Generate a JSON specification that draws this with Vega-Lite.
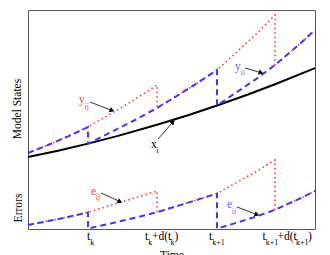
{
  "$schema": "https://vega.github.io/schema/vega-lite/v6.json",
  "width": 287,
  "height": 219,
  "autosize": {"type": "none"},
  "padding": {"left": 28, "top": 10, "right": 15, "bottom": 26},
  "background": "white",
  "config": {"view": {"stroke": "#555555", "strokeWidth": 1}, "text": {"font": "Liberation Serif"}},
  "datasets": {
    "curves": [
      {"s": "x_i", "i": 1, "t": 0, "v": 72}, {"s": "x_i", "i": 2, "t": 30, "v": 78.3}, {"s": "x_i", "i": 3, "t": 60, "v": 85.4}, {"s": "x_i", "i": 4, "t": 90, "v": 93.1}, {"s": "x_i", "i": 5, "t": 129, "v": 104.2}, {"s": "x_i", "i": 6, "t": 160, "v": 113.8}, {"s": "x_i", "i": 7, "t": 189, "v": 123.5}, {"s": "x_i", "i": 8, "t": 220, "v": 134.5}, {"s": "x_i", "i": 9, "t": 247, "v": 144.8}, {"s": "x_i", "i": 10, "t": 287, "v": 160.9},

      {"s": "y_ij", "i": 1, "t": 0, "v": 76}, {"s": "y_ij", "i": 2, "t": 20, "v": 84.0}, {"s": "y_ij", "i": 3, "t": 40, "v": 92.6}, {"s": "y_ij", "i": 4, "t": 60, "v": 102}, {"s": "y_ij", "i": 5, "t": 83, "v": 115.3}, {"s": "y_ij", "i": 6, "t": 106, "v": 129}, {"s": "y_ij", "i": 7, "t": 129, "v": 144}, {"s": "y_ij", "i": 8, "t": 129, "v": 121}, {"s": "y_ij", "i": 9, "t": 149, "v": 133.2}, {"s": "y_ij", "i": 10, "t": 169, "v": 145.8}, {"s": "y_ij", "i": 11, "t": 189, "v": 159}, {"s": "y_ij", "i": 12, "t": 208, "v": 176.3}, {"s": "y_ij", "i": 13, "t": 228, "v": 194.8}, {"s": "y_ij", "i": 14, "t": 247, "v": 214}, {"s": "y_ij", "i": 15, "t": 247, "v": 164}, {"s": "y_ij", "i": 16, "t": 260, "v": 175}, {"s": "y_ij", "i": 17, "t": 274, "v": 187}, {"s": "y_ij", "i": 18, "t": 287, "v": 199},

      {"s": "y_ii", "i": 1, "t": 0, "v": 76}, {"s": "y_ii", "i": 2, "t": 20, "v": 84.0}, {"s": "y_ii", "i": 3, "t": 40, "v": 92.6}, {"s": "y_ii", "i": 4, "t": 60, "v": 102}, {"s": "y_ii", "i": 5, "t": 60, "v": 85.4}, {"s": "y_ii", "i": 6, "t": 83, "v": 96.8}, {"s": "y_ii", "i": 7, "t": 106, "v": 108.5}, {"s": "y_ii", "i": 8, "t": 129, "v": 121}, {"s": "y_ii", "i": 9, "t": 149, "v": 133.2}, {"s": "y_ii", "i": 10, "t": 169, "v": 145.8}, {"s": "y_ii", "i": 11, "t": 189, "v": 159}, {"s": "y_ii", "i": 12, "t": 189, "v": 123.5}, {"s": "y_ii", "i": 13, "t": 208, "v": 136.3}, {"s": "y_ii", "i": 14, "t": 228, "v": 149.9}, {"s": "y_ii", "i": 15, "t": 247, "v": 164}, {"s": "y_ii", "i": 16, "t": 260, "v": 175}, {"s": "y_ii", "i": 17, "t": 274, "v": 187}, {"s": "y_ii", "i": 18, "t": 287, "v": 199},

      {"s": "e_ij", "i": 1, "t": 0, "v": 4}, {"s": "e_ij", "i": 2, "t": 20, "v": 7.9}, {"s": "e_ij", "i": 3, "t": 40, "v": 12.0}, {"s": "e_ij", "i": 4, "t": 60, "v": 16.6}, {"s": "e_ij", "i": 5, "t": 83, "v": 23.8}, {"s": "e_ij", "i": 6, "t": 106, "v": 30.8}, {"s": "e_ij", "i": 7, "t": 129, "v": 38}, {"s": "e_ij", "i": 8, "t": 129, "v": 16.8}, {"s": "e_ij", "i": 9, "t": 149, "v": 22.9}, {"s": "e_ij", "i": 10, "t": 169, "v": 29.1}, {"s": "e_ij", "i": 11, "t": 189, "v": 35.5}, {"s": "e_ij", "i": 12, "t": 208, "v": 46.1}, {"s": "e_ij", "i": 13, "t": 228, "v": 57.3}, {"s": "e_ij", "i": 14, "t": 247, "v": 69}, {"s": "e_ij", "i": 15, "t": 247, "v": 19.2}, {"s": "e_ij", "i": 16, "t": 260, "v": 25.1}, {"s": "e_ij", "i": 17, "t": 274, "v": 31.4}, {"s": "e_ij", "i": 18, "t": 287, "v": 38.1},

      {"s": "e_ii", "i": 1, "t": 0, "v": 4}, {"s": "e_ii", "i": 2, "t": 20, "v": 7.9}, {"s": "e_ii", "i": 3, "t": 40, "v": 12.0}, {"s": "e_ii", "i": 4, "t": 60, "v": 16.6}, {"s": "e_ii", "i": 5, "t": 60, "v": 0.5}, {"s": "e_ii", "i": 6, "t": 83, "v": 5.6}, {"s": "e_ii", "i": 7, "t": 106, "v": 11.0}, {"s": "e_ii", "i": 8, "t": 129, "v": 16.8}, {"s": "e_ii", "i": 9, "t": 149, "v": 22.9}, {"s": "e_ii", "i": 10, "t": 169, "v": 29.1}, {"s": "e_ii", "i": 11, "t": 189, "v": 35.5}, {"s": "e_ii", "i": 12, "t": 189, "v": 0.5}, {"s": "e_ii", "i": 13, "t": 208, "v": 6.1}, {"s": "e_ii", "i": 14, "t": 228, "v": 12.4}, {"s": "e_ii", "i": 15, "t": 247, "v": 19.2}, {"s": "e_ii", "i": 16, "t": 260, "v": 25.1}, {"s": "e_ii", "i": 17, "t": 274, "v": 31.4}, {"s": "e_ii", "i": 18, "t": 287, "v": 38.1}
    ],
    "arrows": [
      {"a": "y_ij", "t": 62, "v": 127, "t2": 84, "v2": 118.5, "ang": 20.6},
      {"a": "x_i", "t": 130, "v": 90, "t2": 145, "v2": 107, "ang": -46.6},
      {"a": "y_ii", "t": 217, "v": 161, "t2": 233, "v2": 156.3, "ang": 15.5},
      {"a": "e_ij", "t": 73, "v": 36, "t2": 92, "v2": 27.4, "ang": 23.2},
      {"a": "e_ii", "t": 209, "v": 22, "t2": 229, "v2": 14.4, "ang": 20}
    ],
    "labels": [
      {"txt": "y", "k": "m", "c": "r", "t": 51, "v": 126},
      {"txt": "ij", "k": "s", "c": "r", "t": 56.5, "v": 120.5},
      {"txt": "x", "k": "m", "c": "k", "t": 123, "v": 81},
      {"txt": "i", "k": "s", "c": "k", "t": 128.5, "v": 76},
      {"txt": "y", "k": "m", "c": "b", "t": 207, "v": 159},
      {"txt": "ii", "k": "s", "c": "b", "t": 212.5, "v": 154},
      {"txt": "e", "k": "m", "c": "r", "t": 63, "v": 34},
      {"txt": "ij", "k": "s", "c": "r", "t": 67.8, "v": 29},
      {"txt": "e", "k": "m", "c": "b", "t": 199, "v": 21},
      {"txt": "ii", "k": "s", "c": "b", "t": 203.8, "v": 15.5},

      {"txt": "t", "k": "m", "c": "k", "t": 59, "v": -11},
      {"txt": "k", "k": "s", "c": "k", "t": 62.3, "v": -16},

      {"txt": "t", "k": "m", "c": "k", "t": 117, "v": -11},
      {"txt": "k", "k": "s", "c": "k", "t": 120.3, "v": -16},
      {"txt": "+d(t", "k": "m", "c": "k", "t": 124, "v": -11},
      {"txt": "k", "k": "s", "c": "k", "t": 142.5, "v": -16},
      {"txt": ")", "k": "m", "c": "k", "t": 146.5, "v": -11},

      {"txt": "t", "k": "m", "c": "k", "t": 181, "v": -11},
      {"txt": "k+1", "k": "s", "c": "k", "t": 184.3, "v": -16},

      {"txt": "t", "k": "m", "c": "k", "t": 234.5, "v": -11},
      {"txt": "k+1", "k": "s", "c": "k", "t": 237.8, "v": -16},
      {"txt": "+d(t", "k": "m", "c": "k", "t": 249.5, "v": -11},
      {"txt": "k+1", "k": "s", "c": "k", "t": 268, "v": -16},
      {"txt": ")", "k": "m", "c": "k", "t": 280, "v": -11}
    ],
    "titles": [
      {"txt": "Model States", "t": -10, "v": 120},
      {"txt": "Errors", "t": -9.5, "v": 21}
    ],
    "xtitle": [
      {"txt": "Time", "t": 144, "v": -20.5}
    ]
  },
  "encoding": {
    "x": {"field": "t", "type": "quantitative", "scale": {"domain": [0, 287], "nice": false, "zero": false}, "axis": null},
    "y": {"field": "v", "type": "quantitative", "scale": {"domain": [0, 219], "nice": false, "zero": false}, "axis": null}
  },
  "layer": [
    {
      "data": {"name": "curves"},
      "transform": [{"filter": "datum.s === 'x_i'"}],
      "mark": {"type": "line", "color": "#000000", "strokeWidth": 2},
      "encoding": {"detail": {"field": "s"}, "order": {"field": "i", "type": "quantitative"}}
    },
    {
      "data": {"name": "curves"},
      "transform": [{"filter": "datum.s === 'y_ij' || datum.s === 'e_ij'"}],
      "mark": {"type": "line", "color": "#ff2a2a", "strokeWidth": 1.5, "strokeDash": [1.5, 3]},
      "encoding": {"detail": {"field": "s"}, "order": {"field": "i", "type": "quantitative"}}
    },
    {
      "data": {"name": "curves"},
      "transform": [{"filter": "datum.s === 'y_ii' || datum.s === 'e_ii'"}],
      "mark": {"type": "line", "color": "#3a3aff", "strokeWidth": 2, "strokeDash": [6, 4]},
      "encoding": {"detail": {"field": "s"}, "order": {"field": "i", "type": "quantitative"}}
    },
    {
      "data": {"name": "arrows"},
      "mark": {"type": "rule", "color": "#000000", "strokeWidth": 0.8},
      "encoding": {"x2": {"field": "t2"}, "y2": {"field": "v2"}}
    },
    {
      "data": {"name": "arrows"},
      "mark": {"type": "point", "shape": "triangle-right", "filled": true, "color": "#000000", "size": 30, "opacity": 1},
      "encoding": {
        "x": {"field": "t2", "type": "quantitative"},
        "y": {"field": "v2", "type": "quantitative"},
        "angle": {"field": "ang", "type": "quantitative", "scale": null}
      }
    },
    {
      "data": {"name": "labels"},
      "transform": [{"filter": "datum.k === 'm'"}],
      "mark": {"type": "text", "align": "left", "baseline": "alphabetic", "fontSize": 11.5},
      "encoding": {
        "text": {"field": "txt"},
        "color": {"field": "c", "type": "nominal", "scale": {"domain": ["r", "b", "k"], "range": ["#ff3b3b", "#6262ff", "#000000"]}, "legend": null}
      }
    },
    {
      "data": {"name": "labels"},
      "transform": [{"filter": "datum.k === 's'"}],
      "mark": {"type": "text", "align": "left", "baseline": "alphabetic", "fontSize": 8},
      "encoding": {
        "text": {"field": "txt"},
        "color": {"field": "c", "type": "nominal", "scale": {"domain": ["r", "b", "k"], "range": ["#ff3b3b", "#6262ff", "#000000"]}, "legend": null}
      }
    },
    {
      "data": {"name": "titles"},
      "mark": {"type": "text", "align": "center", "baseline": "middle", "angle": 270, "fontSize": 11.5, "color": "#000000"},
      "encoding": {"text": {"field": "txt"}}
    },
    {
      "data": {"name": "xtitle"},
      "mark": {"type": "text", "align": "center", "baseline": "top", "fontSize": 11.5, "color": "#000000"},
      "encoding": {"text": {"field": "txt"}}
    }
  ]
}
